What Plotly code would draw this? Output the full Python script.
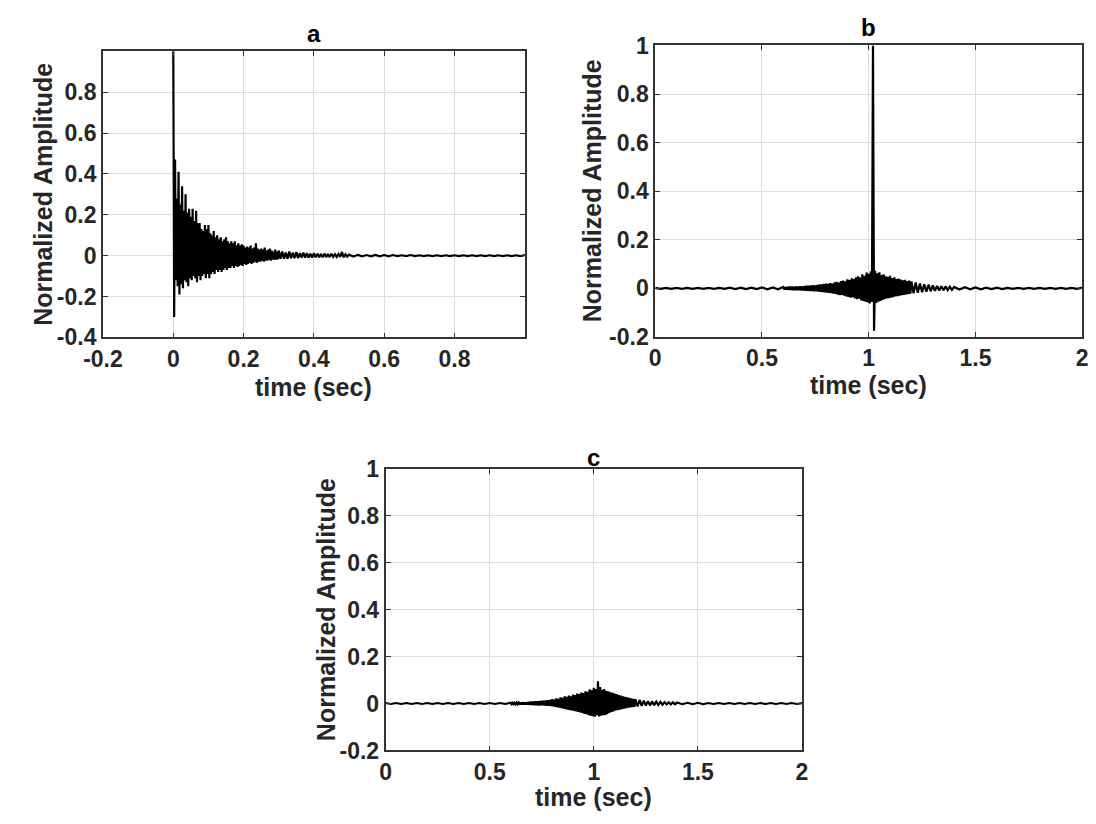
import plotly.graph_objects as go

# ---------------- data ----------------
# panel a : envelope samples (time, upper peak, lower peak)
t_a = [0.000, 0.005, 0.010, 0.015, 0.020, 0.025, 0.030, 0.035, 0.040, 0.045,
       0.050, 0.055, 0.060, 0.065, 0.070, 0.075, 0.080, 0.085, 0.090, 0.095,
       0.100, 0.105, 0.110, 0.115, 0.120, 0.125, 0.130, 0.135, 0.140, 0.145,
       0.150, 0.155, 0.160, 0.165, 0.170, 0.175, 0.180, 0.185, 0.190, 0.195,
       0.200, 0.205, 0.210, 0.215, 0.220, 0.225, 0.230, 0.235, 0.240, 0.245,
       0.250, 0.255, 0.260, 0.265, 0.270, 0.275, 0.280, 0.285, 0.290, 0.295,
       0.300, 0.310, 0.320, 0.330, 0.340, 0.350, 0.360, 0.370, 0.380, 0.390,
       0.400, 0.410, 0.420, 0.430, 0.440, 0.450, 0.460, 0.470, 0.480, 0.490,
       0.500, 0.525, 0.550, 0.575, 0.600, 0.625, 0.650, 0.675, 0.700, 0.725,
       0.750, 0.775, 0.800, 0.825, 0.850, 0.875, 0.900, 0.925, 0.950, 0.975,
       0.999]
up_a = [1.00, 0.47, 0.28, 0.41, 0.25, 0.34, 0.22, 0.30, 0.21, 0.23,
        0.19, 0.23, 0.17, 0.22, 0.16, 0.16, 0.13, 0.12, 0.15, 0.13,
        0.15, 0.11, 0.10, 0.12, 0.09, 0.10, 0.08, 0.09, 0.07, 0.08,
        0.09, 0.07, 0.06, 0.07, 0.06, 0.07, 0.05, 0.06, 0.05, 0.055,
        0.05, 0.04, 0.045, 0.04, 0.05, 0.035, 0.04, 0.06, 0.035, 0.03,
        0.035, 0.03, 0.04, 0.025, 0.03, 0.035, 0.025, 0.02, 0.03, 0.02,
        0.025, 0.02, 0.015, 0.02, 0.015, 0.018, 0.012, 0.015, 0.012, 0.010,
        0.012, 0.010, 0.008, 0.010, 0.008, 0.009, 0.007, 0.008, 0.018, 0.007,
        0.005, 0.004, 0.003, 0.004, 0.003, 0.003, 0.002, 0.003, 0.002, 0.002,
        0.002, 0.002, 0.002, 0.002, 0.002, 0.002, 0.002, 0.002, 0.002, 0.002,
        0.002]
lo_a = [-0.30, -0.12, -0.15, -0.19, -0.14, -0.16, -0.12, -0.13, -0.15, -0.11,
        -0.12, -0.10, -0.11, -0.13, -0.10, -0.12, -0.10, -0.09, -0.11, -0.09,
        -0.11, -0.09, -0.08, -0.09, -0.07, -0.08, -0.07, -0.08, -0.07, -0.06,
        -0.07, -0.06, -0.06, -0.05, -0.06, -0.05, -0.055, -0.05, -0.045, -0.05,
        -0.04, -0.045, -0.04, -0.035, -0.04, -0.035, -0.03, -0.035, -0.03, -0.03,
        -0.025, -0.03, -0.025, -0.025, -0.02, -0.025, -0.02, -0.02, -0.02, -0.018,
        -0.015, -0.015, -0.015, -0.012, -0.012, -0.012, -0.010, -0.010, -0.010, -0.009,
        -0.008, -0.008, -0.008, -0.007, -0.007, -0.006, -0.006, -0.006, -0.008, -0.005,
        -0.004, -0.003, -0.003, -0.003, -0.003, -0.002, -0.002, -0.002, -0.002, -0.002,
        -0.002, -0.002, -0.002, -0.002, -0.002, -0.002, -0.002, -0.002, -0.002, -0.002,
        -0.002]

# panels b and c share the same sampling instants
t_bc = [0.00, 0.05, 0.10, 0.15, 0.20, 0.25, 0.30, 0.35, 0.40, 0.45,
        0.50, 0.55,
        0.60, 0.61, 0.62, 0.63, 0.64, 0.65, 0.66, 0.67, 0.68, 0.69,
        0.70, 0.71, 0.72, 0.73, 0.74, 0.75, 0.76, 0.77, 0.78, 0.79,
        0.80, 0.81, 0.82, 0.83, 0.84, 0.85, 0.86, 0.87, 0.88, 0.89,
        0.90, 0.91, 0.92, 0.93, 0.94, 0.95, 0.96, 0.97, 0.98, 0.99,
        1.00, 1.01, 1.02, 1.03, 1.04, 1.05, 1.06, 1.07, 1.08, 1.09,
        1.10, 1.11, 1.12, 1.13, 1.14, 1.15, 1.16, 1.17, 1.18, 1.19,
        1.20,
        1.22, 1.24, 1.26, 1.28, 1.30, 1.32, 1.34, 1.36, 1.38, 1.40,
        1.45, 1.50, 1.55, 1.60, 1.65, 1.70, 1.75, 1.80, 1.85, 1.90, 1.95, 2.00]

# panel b
up_b = [0.002, 0.002, 0.002, 0.002, 0.002, 0.002, 0.002, 0.003, 0.003, 0.003,
        0.004, 0.004,
        0.006, 0.005, 0.006, 0.007, 0.007, 0.006, 0.008, 0.008, 0.009, 0.008,
        0.010, 0.011, 0.011, 0.012, 0.013, 0.012, 0.014, 0.016, 0.016, 0.018,
        0.019, 0.018, 0.022, 0.020, 0.025, 0.027, 0.024, 0.030, 0.032, 0.029,
        0.037, 0.034, 0.041, 0.038, 0.046, 0.050, 0.044, 0.058, 0.052, 0.065,
        0.060, 0.070, 1.000, 0.072, 0.062, 0.066, 0.055, 0.058, 0.050, 0.048,
        0.052, 0.042, 0.045, 0.038, 0.040, 0.036, 0.033, 0.035, 0.030, 0.032,
        0.028,
        0.024, 0.020, 0.017, 0.015, 0.012, 0.010, 0.009, 0.008, 0.007, 0.006,
        0.005, 0.004, 0.003, 0.003, 0.002, 0.002, 0.002, 0.002, 0.002, 0.002, 0.002, 0.002]
lo_b = [-0.002, -0.002, -0.002, -0.002, -0.002, -0.002, -0.002, -0.003, -0.003, -0.003,
        -0.004, -0.004,
        -0.005, -0.005, -0.006, -0.006, -0.007, -0.007, -0.008, -0.008, -0.009, -0.009,
        -0.010, -0.010, -0.011, -0.011, -0.012, -0.012, -0.013, -0.014, -0.015, -0.016,
        -0.017, -0.019, -0.020, -0.022, -0.023, -0.026, -0.028, -0.027, -0.030, -0.033,
        -0.035, -0.038, -0.036, -0.042, -0.045, -0.043, -0.050, -0.052, -0.055, -0.058,
        -0.062, -0.056, -0.175, -0.060, -0.055, -0.052, -0.048, -0.045, -0.042, -0.040,
        -0.038, -0.036, -0.033, -0.032, -0.030, -0.028, -0.027, -0.025, -0.024, -0.022,
        -0.020,
        -0.018, -0.016, -0.014, -0.012, -0.010, -0.009, -0.008, -0.007, -0.006, -0.005,
        -0.004, -0.004, -0.003, -0.003, -0.002, -0.002, -0.002, -0.002, -0.002, -0.002, -0.002, -0.002]

# panel c
up_c = [0.002, 0.002, 0.002, 0.002, 0.002, 0.002, 0.002, 0.002, 0.002, 0.002,
        0.002, 0.002,
        0.003, 0.003, 0.003, 0.004, 0.004, 0.004, 0.005, 0.005, 0.006, 0.007,
        0.008, 0.008, 0.010, 0.010, 0.011, 0.012, 0.012, 0.013, 0.014, 0.015,
        0.018, 0.016, 0.022, 0.020, 0.026, 0.024, 0.030, 0.028, 0.034, 0.031,
        0.038, 0.036, 0.042, 0.040, 0.047, 0.044, 0.052, 0.050, 0.060, 0.056,
        0.067, 0.062, 0.095, 0.070, 0.058, 0.062, 0.054, 0.052, 0.048, 0.045,
        0.042, 0.040, 0.036, 0.034, 0.030, 0.028, 0.026, 0.024, 0.022, 0.020,
        0.018,
        0.015, 0.012, 0.010, 0.009, 0.008, 0.007, 0.006, 0.005, 0.005, 0.004,
        0.003, 0.003, 0.002, 0.002, 0.002, 0.002, 0.002, 0.002, 0.002, 0.002, 0.002, 0.002]
lo_c = [-0.002, -0.002, -0.002, -0.002, -0.002, -0.002, -0.002, -0.002, -0.002, -0.002,
        -0.002, -0.002,
        -0.003, -0.003, -0.003, -0.003, -0.004, -0.004, -0.005, -0.005, -0.005, -0.006,
        -0.006, -0.007, -0.007, -0.008, -0.008, -0.008, -0.009, -0.010, -0.010, -0.011,
        -0.012, -0.014, -0.016, -0.018, -0.020, -0.022, -0.024, -0.026, -0.028, -0.030,
        -0.032, -0.034, -0.036, -0.038, -0.040, -0.044, -0.046, -0.050, -0.052, -0.054,
        -0.056, -0.050, -0.055, -0.052, -0.050, -0.050, -0.046, -0.040, -0.036, -0.034,
        -0.030, -0.028, -0.026, -0.024, -0.022, -0.020, -0.018, -0.016, -0.015, -0.014,
        -0.012,
        -0.010, -0.009, -0.008, -0.007, -0.006, -0.005, -0.004, -0.004, -0.003, -0.003,
        -0.003, -0.003, -0.002, -0.002, -0.002, -0.002, -0.002, -0.002, -0.002, -0.002, -0.002, -0.002]

panel_titles = ["a", "b", "c"]
x_title = "time (sec)"
y_title = "Normalized Amplitude"

xt_a = [-0.2, 0, 0.2, 0.4, 0.6, 0.8]
xl_a = ["-0.2", "0", "0.2", "0.4", "0.6", "0.8"]
yt_a = [-0.4, -0.2, 0, 0.2, 0.4, 0.6, 0.8]
yl_a = ["-0.4", "-0.2", "0", "0.2", "0.4", "0.6", "0.8"]
xt_bc = [0, 0.5, 1, 1.5, 2]
xl_bc = ["0", "0.5", "1", "1.5", "2"]
yt_bc = [-0.2, 0, 0.2, 0.4, 0.6, 0.8, 1]
yl_bc = ["-0.2", "0", "0.2", "0.4", "0.6", "0.8", "1"]

assert len(t_a) == len(up_a) == len(lo_a)
assert len(t_bc) == len(up_b) == len(lo_b) == len(up_c) == len(lo_c)


def zigzag(t, up, lo):
    """Interleave upper and lower peaks into one oscillating trace."""
    xs, ys = [], []
    n = len(t)
    for i in range(n):
        nxt = t[i + 1] if i + 1 < n else t[i]
        xs.append(t[i]); ys.append(up[i])
        xs.append((t[i] + nxt) / 2); ys.append(lo[i])
    return xs, ys


FONT = "Liberation Sans, Arial, Helvetica, sans-serif"
INK = "#262626"
W, H = 1096, 824

# plot areas in pixels (left, right, top, bottom)
boxes = {
    "a": (85, 517, 39.5, 335),
    "b": (650.7, 1088, 33.5, 334.5),
    "c": (374.5, 801, 470.5, 761.5),
}


def dom(box):
    l, r, t, b = box
    return [l / W, r / W], [1 - b / H, 1 - t / H]


fig = go.Figure()
series = [(t_a, up_a, lo_a, "x", "y"),
          (t_bc, up_b, lo_b, "x2", "y2"),
          (t_bc, up_c, lo_c, "x3", "y3")]
for t, u, l, xa, ya in series:
    xs, ys = zigzag(t, u, l)
    fig.add_trace(go.Scatter(x=xs, y=ys, mode="lines", xaxis=xa, yaxis=ya,
                             line=dict(color="black", width=2.2),
                             showlegend=False, hoverinfo="skip"))

tickfont = dict(family=FONT, size=23, color=INK, weight="bold")
common = dict(showline=True, linecolor="#333333", linewidth=1.8, mirror="ticks",
              ticks="inside", ticklen=5, tickwidth=1.2, tickcolor="#333333",
              showgrid=True, gridcolor="#dcdcdc", gridwidth=1.2, zeroline=False,
              tickfont=tickfont, tickmode="array")

xa_d, ya_d = dom(boxes["a"])
xb_d, yb_d = dom(boxes["b"])
xc_d, yc_d = dom(boxes["c"])

fig.update_layout(
    width=W, height=H,
    margin=dict(l=0, r=0, t=0, b=0),
    paper_bgcolor="white", plot_bgcolor="white",
    xaxis=dict(domain=xa_d, anchor="y", range=[-0.2, 0.9999],
               tickvals=xt_a, ticktext=xl_a, **common),
    yaxis=dict(domain=ya_d, anchor="x", range=[-0.4, 0.9999],
               tickvals=yt_a, ticktext=yl_a, **common),
    xaxis2=dict(domain=xb_d, anchor="y2", range=[0, 2],
                tickvals=xt_bc, ticktext=xl_bc, **common),
    yaxis2=dict(domain=yb_d, anchor="x2", range=[-0.2, 1],
                tickvals=yt_bc, ticktext=yl_bc, **common),
    xaxis3=dict(domain=xc_d, anchor="y3", range=[0, 2],
                tickvals=xt_bc, ticktext=xl_bc, **common),
    yaxis3=dict(domain=yc_d, anchor="x3", range=[-0.2, 1],
                tickvals=yt_bc, ticktext=yl_bc, **common),
)

labfont = dict(family=FONT, size=25, color=INK, weight="bold")
titfont = dict(family=FONT, size=24, color="black", weight="bold")

ann = []
# panel titles (pixel centres)
for name, (cx, cy) in zip(panel_titles, [(301, 21), (869.4, 15), (587.7, 459)]):
    ann.append(dict(text=name, x=cx / W, y=1 - cy / H, xref="paper", yref="paper",
                    xanchor="center", yanchor="middle", showarrow=False, font=titfont))
# x axis titles
for cx, cy in [(301, 386), (869.4, 384), (587.7, 810)]:
    ann.append(dict(text=x_title, x=cx / W, y=1 - cy / H, xref="paper", yref="paper",
                    xanchor="center", yanchor="middle", showarrow=False, font=labfont))
# y axis titles
for cx, cy in [(24, 187.3), (586, 184), (313, 616)]:
    ann.append(dict(text=y_title, x=cx / W, y=1 - cy / H, xref="paper", yref="paper",
                    xanchor="center", yanchor="middle", textangle=-90,
                    showarrow=False, font=labfont))
fig.update_layout(annotations=ann)

fig.write_html("out.html")
